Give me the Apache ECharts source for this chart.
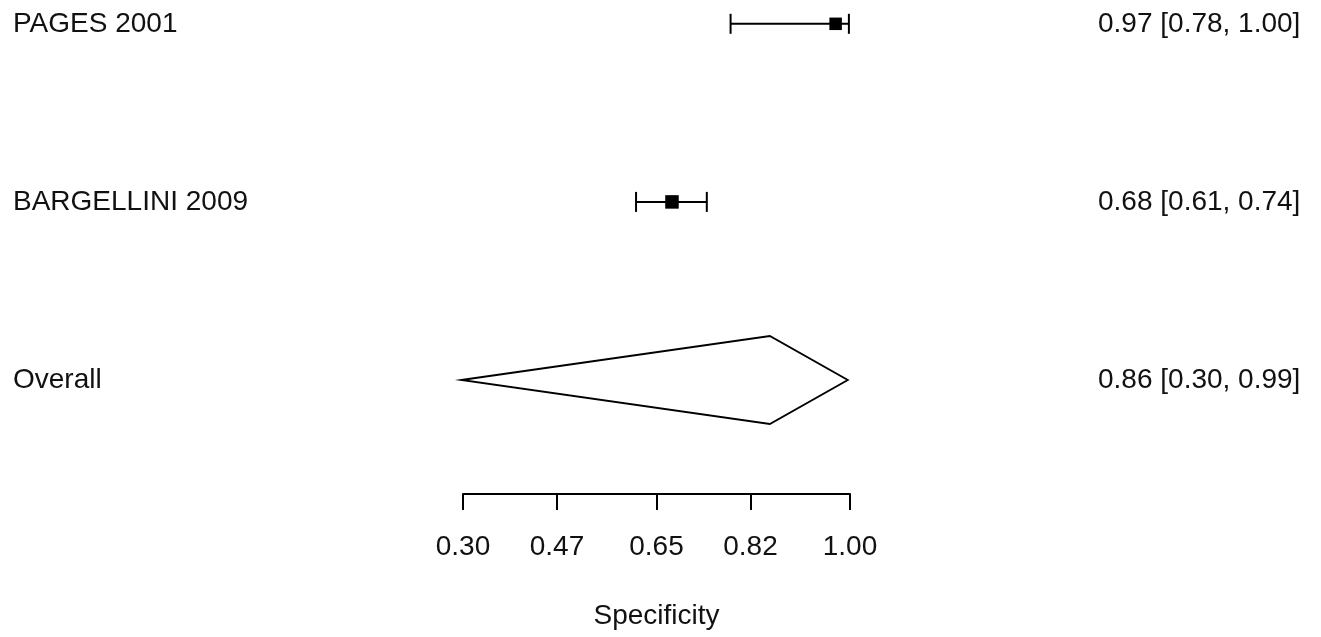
<!DOCTYPE html>
<html><head><meta charset="utf-8">
<script src="https://cdn.jsdelivr.net/npm/echarts@6/dist/echarts.min.js"></script>
<style>html,body{margin:0;padding:0;background:#fff}#c{width:1321px;height:637px}</style>
</head><body><div id="c"></div>
<script>
// ---- data ----
const studyNames = ['PAGES 2001', 'BARGELLINI 2009'];
const studyRows = [3, 2];
const estimates = [0.974, 0.678];
const lowerCI = [0.784, 0.613];
const upperCI = [0.998, 0.741];
const squareSizes = [12.5, 13.5];
const overallName = 'Overall';
const overallRow = 1;
const overallEst = 0.855;
const overallLo = 0.297;
const overallHi = 0.996;
const rowLabels = ['PAGES 2001', 'BARGELLINI 2009', 'Overall'];
const rowPositions = [3, 2, 1];
const summaryText = ['0.97 [0.78, 1.00]', '0.68 [0.61, 0.74]', '0.86 [0.30, 0.99]'];
const xTicks = [0.30, 0.47, 0.65, 0.82, 1.00];
const xTickLabels = ['0.30', '0.47', '0.65', '0.82', '1.00'];
const xTitle = 'Specificity';

// ---- chart ----
const FONT = "'Liberation Sans', Arial, sans-serif";
const FS = 28;
const TXT = '#111';
const chart = echarts.init(document.getElementById('c'), null, {renderer: 'canvas'});

const studyData = studyNames.map((n, i) => [estimates[i], lowerCI[i], upperCI[i], studyRows[i], squareSizes[i]]);

function labelFor(v, arr) {
  const i = rowPositions.indexOf(Math.round(v));
  return i >= 0 ? arr[i] : '';
}

const yCommon = {
  type: 'value', min: 0.36, max: 3.1,
  axisLine: {show: false}, axisTick: {show: false}, splitLine: {show: false}
};

chart.setOption({
  animation: false,
  backgroundColor: '#fff',
  grid: {left: 463, right: 471, top: 6, bottom: 143},
  xAxis: {
    type: 'value', min: 0.30, max: 1.00,
    splitLine: {show: false},
    axisLine: {show: true, lineStyle: {color: '#000', width: 2}},
    axisTick: {show: true, customValues: xTicks, length: 16, inside: false, lineStyle: {color: '#000', width: 2}},
    axisLabel: {
      customValues: xTicks, margin: 39, color: TXT, fontSize: FS, fontFamily: FONT,
      formatter: v => xTickLabels[xTicks.findIndex(t => Math.abs(t - v) < 1e-6)] ?? ''
    },
    name: xTitle, nameLocation: 'middle', nameGap: 108,
    nameTextStyle: {color: TXT, fontSize: FS, fontFamily: FONT}
  },
  yAxis: [
    Object.assign({}, yCommon, {
      position: 'left',
      axisLabel: {customValues: rowPositions, align: 'left', margin: 450, color: TXT, fontSize: FS, fontFamily: FONT,
        padding: [4, 0, 0, 0], formatter: v => labelFor(v, rowLabels)}
    }),
    Object.assign({}, yCommon, {
      position: 'right',
      axisLabel: {customValues: rowPositions, align: 'left', margin: 248, color: TXT, fontSize: FS, fontFamily: FONT,
        padding: [4, 0, 0, 0], formatter: v => labelFor(v, summaryText)}
    })
  ],
  series: [
    {
      type: 'custom', clip: false, yAxisIndex: 0,
      data: studyData,
      renderItem: function (params, api) {
        const row = api.value(3);
        const pE = api.coord([api.value(0), row]);
        const pL = api.coord([api.value(1), row]);
        const pH = api.coord([api.value(2), row]);
        const s = api.value(4);
        const cap = 10;
        const ls = {stroke: '#000', lineWidth: 2};
        return {
          type: 'group',
          children: [
            {type: 'line', shape: {x1: pL[0], y1: pL[1], x2: pH[0], y2: pH[1]}, style: ls},
            {type: 'line', shape: {x1: pL[0], y1: pL[1] - cap, x2: pL[0], y2: pL[1] + cap}, style: ls},
            {type: 'line', shape: {x1: pH[0], y1: pH[1] - cap, x2: pH[0], y2: pH[1] + cap}, style: ls},
            {type: 'rect', shape: {x: pE[0] - s / 2, y: pE[1] - s / 2, width: s, height: s}, style: {fill: '#000'}}
          ]
        };
      }
    },
    {
      type: 'custom', clip: false, yAxisIndex: 0,
      data: [[overallEst, overallLo, overallHi, overallRow]],
      renderItem: function (params, api) {
        const row = api.value(3);
        const pE = api.coord([api.value(0), row]);
        const pL = api.coord([api.value(1), row]);
        const pH = api.coord([api.value(2), row]);
        const h = 44;
        return {
          type: 'polygon',
          shape: {points: [[pL[0], pL[1]], [pE[0], pE[1] - h], [pH[0], pH[1]], [pE[0], pE[1] + h]]},
          style: {fill: '#fff', stroke: '#000', lineWidth: 1.8}
        };
      }
    }
  ]
});
</script>
</body></html>
